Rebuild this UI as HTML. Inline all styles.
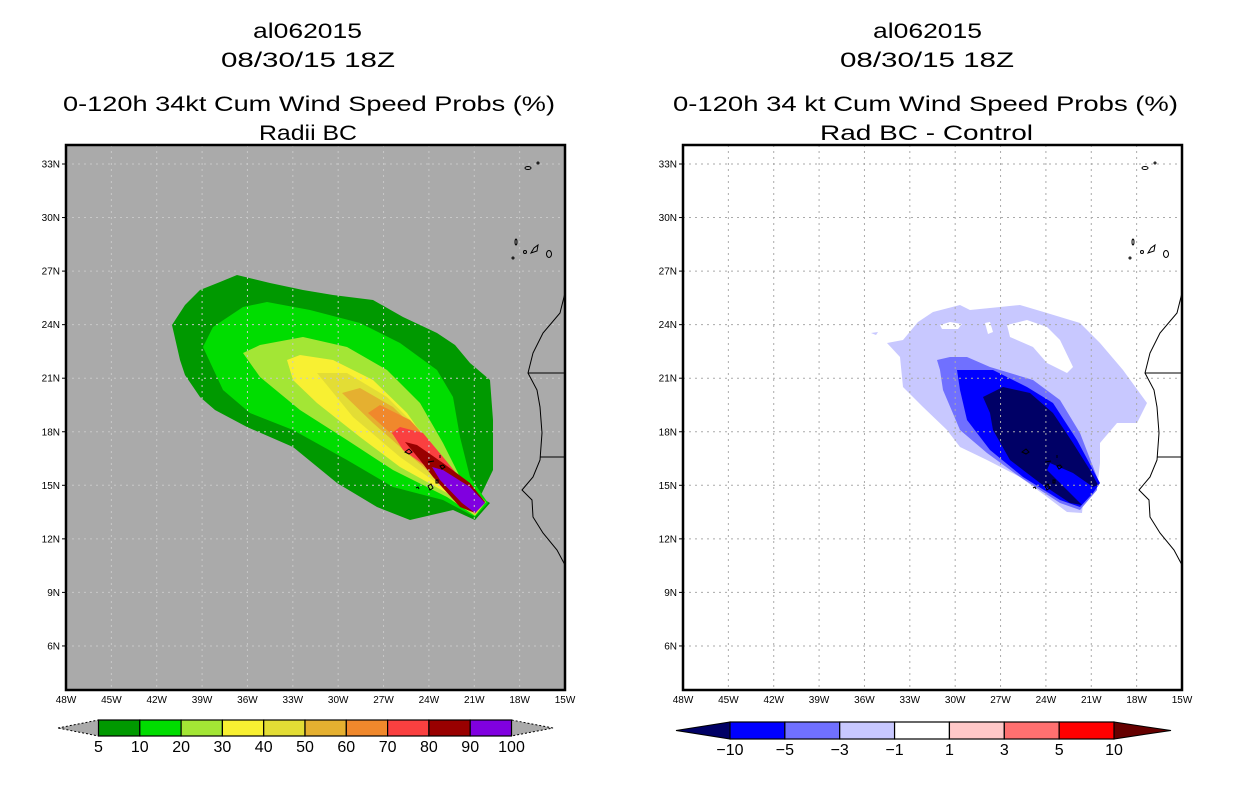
<!DOCTYPE html>
<html><head><meta charset="utf-8"><style>
body{margin:0;background:#fff;width:1236px;height:800px;overflow:hidden;font-family:"Liberation Sans","DejaVu Sans",sans-serif}
svg text{font-family:"Liberation Sans","DejaVu Sans",sans-serif}
</style></head><body>
<svg id="s" width="1236" height="800" viewBox="0 0 1236 800" xmlns="http://www.w3.org/2000/svg">
<rect width="1236" height="800" fill="#fff"/>
<g font-size="21" fill="#000" lengthAdjust="spacingAndGlyphs">
<text x="253" y="38" textLength="109" lengthAdjust="spacingAndGlyphs">al062015</text><text x="221" y="67" textLength="174" lengthAdjust="spacingAndGlyphs">08/30/15 18Z</text>
<text x="63" y="111" textLength="492" lengthAdjust="spacingAndGlyphs">0-120h 34kt Cum Wind Speed Probs (%)</text><text x="259" y="140" textLength="98" lengthAdjust="spacingAndGlyphs">Radii BC</text></g>
<g font-size="21" fill="#000">
<text x="873" y="38" textLength="109" lengthAdjust="spacingAndGlyphs">al062015</text><text x="840" y="67" textLength="174" lengthAdjust="spacingAndGlyphs">08/30/15 18Z</text>
<text x="673" y="111" textLength="505" lengthAdjust="spacingAndGlyphs">0-120h 34 kt Cum Wind Speed Probs (%)</text><text x="820" y="140" textLength="213" lengthAdjust="spacingAndGlyphs">Rad BC - Control</text></g>

<g>
<rect x="66" y="145" width="499" height="545" fill="#aaaaaa"/>
<g stroke="none">
<polygon fill="#009900" points="172,325 185,305 200,290 220,282 237,275 270,283 303,290 333,295 373,300 403,317 437,333 455,345 470,363 490,380 493,420 493,470 480,497 490,503 475,520 453,510 410,520 377,507 337,483 293,447 247,427 215,410 200,397 185,375 180,360"/>
<polygon fill="#00dd00" points="203,347 213,327 243,307 267,302 310,310 360,323 400,343 437,370 453,397 460,437 470,477 488,503 475,517 443,500 393,487 347,460 293,430 250,413 223,390"/>
<polygon fill="#a3e635" points="243,353 260,345 303,337 347,347 387,370 420,403 443,443 460,477 486,502 475,516 447,497 393,470 347,440 300,410 260,377"/>
<polygon fill="#f8f032" points="287,360 300,355 333,360 373,380 407,413 433,450 457,480 485,502 475,515 447,493 400,467 360,437 317,403 293,380"/>
<polygon fill="#e3dd35" points="317,373 347,373 387,397 420,430 450,470 485,502 475,515 447,490 400,457 353,417"/>
<polygon fill="#e5b030" points="342,393 360,388 393,407 427,440 453,477 485,502 475,514 447,487 407,453 373,423"/>
<polygon fill="#f0882c" points="368,413 380,405 410,420 437,450 460,483 485,502 475,514 450,487 413,450 387,430"/>
<polygon fill="#fa4040" points="392,433 400,427 423,433 443,457 470,490 485,502 475,513 453,490 427,467 403,450"/>
<polygon fill="#990000" points="405,442 417,445 443,463 470,483 485,502 475,513 460,507 433,477 420,460"/>
<polygon fill="#8000e0" points="432,467 443,470 470,487 485,503 475,513 462,503 440,480"/>
</g>
<g id="gL"></g>
<g fill="none" stroke="#000" stroke-width="1">
<polyline points="565,293 560,313 543,333 533,353 528,373 537,390 540,407 542,433 540,460 533,477 522,490 532,500 533,517 543,533 557,550 565,565"/>
<line x1="528" y1="373" x2="565" y2="373"/><line x1="540" y1="457" x2="565" y2="457"/>
<ellipse cx="528" cy="168" rx="3" ry="1.5"/><circle cx="538" cy="163" r="1"/>
<ellipse cx="516" cy="242" rx="1" ry="3"/><circle cx="525" cy="252" r="1.5"/><path d="M531,253 l3,-5 l4,-3 l-1,6 z"/><ellipse cx="549" cy="254" rx="2.5" ry="3.5"/><circle cx="513" cy="258" r="1"/>
<path d="M405,452 l4,-3 l3,3 l-3,2 z M428,462 l6,-1 M440,455 l0,3 M440,466 l3,-1 l2,2 l-3,2 z M428,486 l3,-2 l2,4 l-3,2 z M436,480 l2,0 l0,3 l-2,0 z M416,488 l2,-1 l1,2"/>
</g>
<rect x="66" y="145" width="499" height="545" fill="none" stroke="#000" stroke-width="2.5"/>
</g>

<g>
<rect x="683" y="145" width="499" height="545" fill="#fff"/>
<g stroke="none">
<polygon fill="#c8c8ff" points="887,343 903,340 918,322 933,312 960,305 970,310 1000,307 1020,305 1047,313 1080,323 1100,343 1123,370 1147,403 1137,423 1117,423 1100,443 1100,463 1097,490 1083,503 1082,513 1067,512 1047,497 1020,477 987,460 960,447 947,430 923,407 903,387 900,357"/>
<polygon fill="#fff" points="1007,325 1027,320 1047,327 1060,340 1073,367 1067,373 1047,363 1033,347 1010,337"/>
<polygon fill="#fff" points="940,325 950,322 962,324 958,329 942,329"/>
<polygon fill="#fff" points="985,323 990,322 993,332 988,334"/>
<polygon fill="#fff" points="1120,430 1137,424 1140,440 1135,455 1125,440"/>
<polygon fill="#c8c8ff" points="871,333 878,332 876,335"/>
<polygon fill="#7070ff" points="937,360 950,357 967,357 990,367 1033,380 1060,400 1080,433 1097,477 1097,490 1080,510 1060,503 1020,477 987,453 960,430 943,390 940,370"/>
<polygon fill="#0000ff" points="957,370 993,370 1027,387 1053,403 1077,440 1100,483 1093,493 1080,507 1060,500 1023,477 990,450 967,420 960,390"/>
<polygon fill="#000066" points="983,397 1003,387 1030,393 1053,413 1073,443 1090,470 1098,485 1093,487 1073,473 1050,463 1047,470 1067,490 1082,505 1070,503 1040,483 1010,460 993,430 990,413"/>
</g>
<g id="gR"></g>
<g fill="none" stroke="#000" stroke-width="1">
<polyline points="1182,293 1177,313 1160,333 1150,353 1145,373 1154,390 1157,407 1159,433 1157,460 1150,477 1139,490 1149,500 1150,517 1160,533 1174,550 1182,565"/>
<line x1="1145" y1="373" x2="1182" y2="373"/><line x1="1157" y1="457" x2="1182" y2="457"/>
<ellipse cx="1145" cy="168" rx="3" ry="1.5"/><circle cx="1155" cy="163" r="1"/>
<ellipse cx="1133" cy="242" rx="1" ry="3"/><circle cx="1142" cy="252" r="1.5"/><path d="M1148,253 l3,-5 l4,-3 l-1,6 z"/><ellipse cx="1166" cy="254" rx="2.5" ry="3.5"/><circle cx="1130" cy="258" r="1"/>
<path d="M1022,452 l4,-3 l3,3 l-3,2 z M1045,462 l6,-1 M1057,455 l0,3 M1057,466 l3,-1 l2,2 l-3,2 z M1045,486 l3,-2 l2,4 l-3,2 z M1053,480 l2,0 l0,3 l-2,0 z M1033,488 l2,-1 l1,2"/>
</g>
<rect x="683" y="145" width="499" height="545" fill="none" stroke="#000" stroke-width="2.5"/>
</g>
<g id="cbL"></g>
<g id="cbR"></g>
</svg>
<script>
const lonTicks=[48,45,42,39,36,33,30,27,24,21,18,15];
const latTicks=[33,30,27,24,21,18,15,12,9,6];
const probColors=["#009900","#00dd00","#a3e635","#f8f032","#e3dd35","#e5b030","#f0882c","#fa4040","#990000","#8000e0"];
const probLabels=["5","10","20","30","40","50","60","70","80","90","100"];
const diffColors=["#0000ff","#7070ff","#c8c8ff","#ffffff","#ffc8c8","#ff7070","#ff0000"];
const diffLabels=["\u221210","\u22125","\u22123","\u22121","1","3","5","10"];
const NS="http://www.w3.org/2000/svg";
function mk(tag,attrs,parent){const e=document.createElementNS(NS,tag);for(const k in attrs)e.setAttribute(k,attrs[k]);parent.appendChild(e);return e;}
const xLon=(lon,x0)=>x0+(48-lon)*499/33;
const yLat=lat=>164+(33-lat)*17.85;
function grid(g,x0,col){
  lonTicks.forEach(l=>{const x=xLon(l,x0);
    if(l<48&&l>15){const ln=mk('line',{x1:x,y1:145,x2:x,y2:690,stroke:col,'stroke-dasharray':'2,4'},g);
    }
    const t=mk('text',{x:x,y:703,'font-size':10,'text-anchor':'middle'},g);t.textContent=l+'W';
    });
  latTicks.forEach(l=>{const y=yLat(l);
    const ln=mk('line',{x1:x0,y1:y,x2:x0+499,y2:y,stroke:col,'stroke-dasharray':'2,4'},g);
    
    mk('line',{x1:x0-4,y1:y,x2:x0,y2:y,stroke:'#000'},g);
    const t=mk('text',{x:x0-6,y:y+3.5,'font-size':10,'text-anchor':'end'},g);t.textContent=l+'N';
    });
}
grid(document.getElementById('gL'),66,'#c8c8c8');
grid(document.getElementById('gR'),683,'#aaaaaa');
function cbar(g,x0,x1,y0,y1,tipL,tipR,cols,labels,lc,rc){
  const w=(x1-x0)/cols.length, ym=(y0+y1)/2;
  const a=mk('polygon',{points:`${tipL},${ym} ${x0},${y0} ${x0},${y1}`,fill:lc,stroke:'#000','stroke-dasharray':lc=='#aaaaaa'?'2,2':'none'},g);
  
  const b=mk('polygon',{points:`${tipR},${ym} ${x1},${y0} ${x1},${y1}`,fill:rc,stroke:'#000','stroke-dasharray':rc=='#aaaaaa'?'2,2':'none'},g);
  
  cols.forEach((c,i)=>{const r=mk('rect',{x:x0+i*w,y:y0,width:w,height:y1-y0,fill:c,stroke:'#000','stroke-width':1.2},g);
    });
  labels.forEach((s,i)=>{const t=mk('text',{x:x0+i*w,y:y1+16,'font-size':16,'text-anchor':'middle'},g);t.textContent=s;
    });
}
cbar(document.getElementById('cbL'),98.5,511.5,720,736,58,553,probColors,probLabels,'#aaaaaa','#aaaaaa');
cbar(document.getElementById('cbR'),730,1114,722,739,676,1171,diffColors,diffLabels,'#000066','#660000');
</script>
</body></html>
